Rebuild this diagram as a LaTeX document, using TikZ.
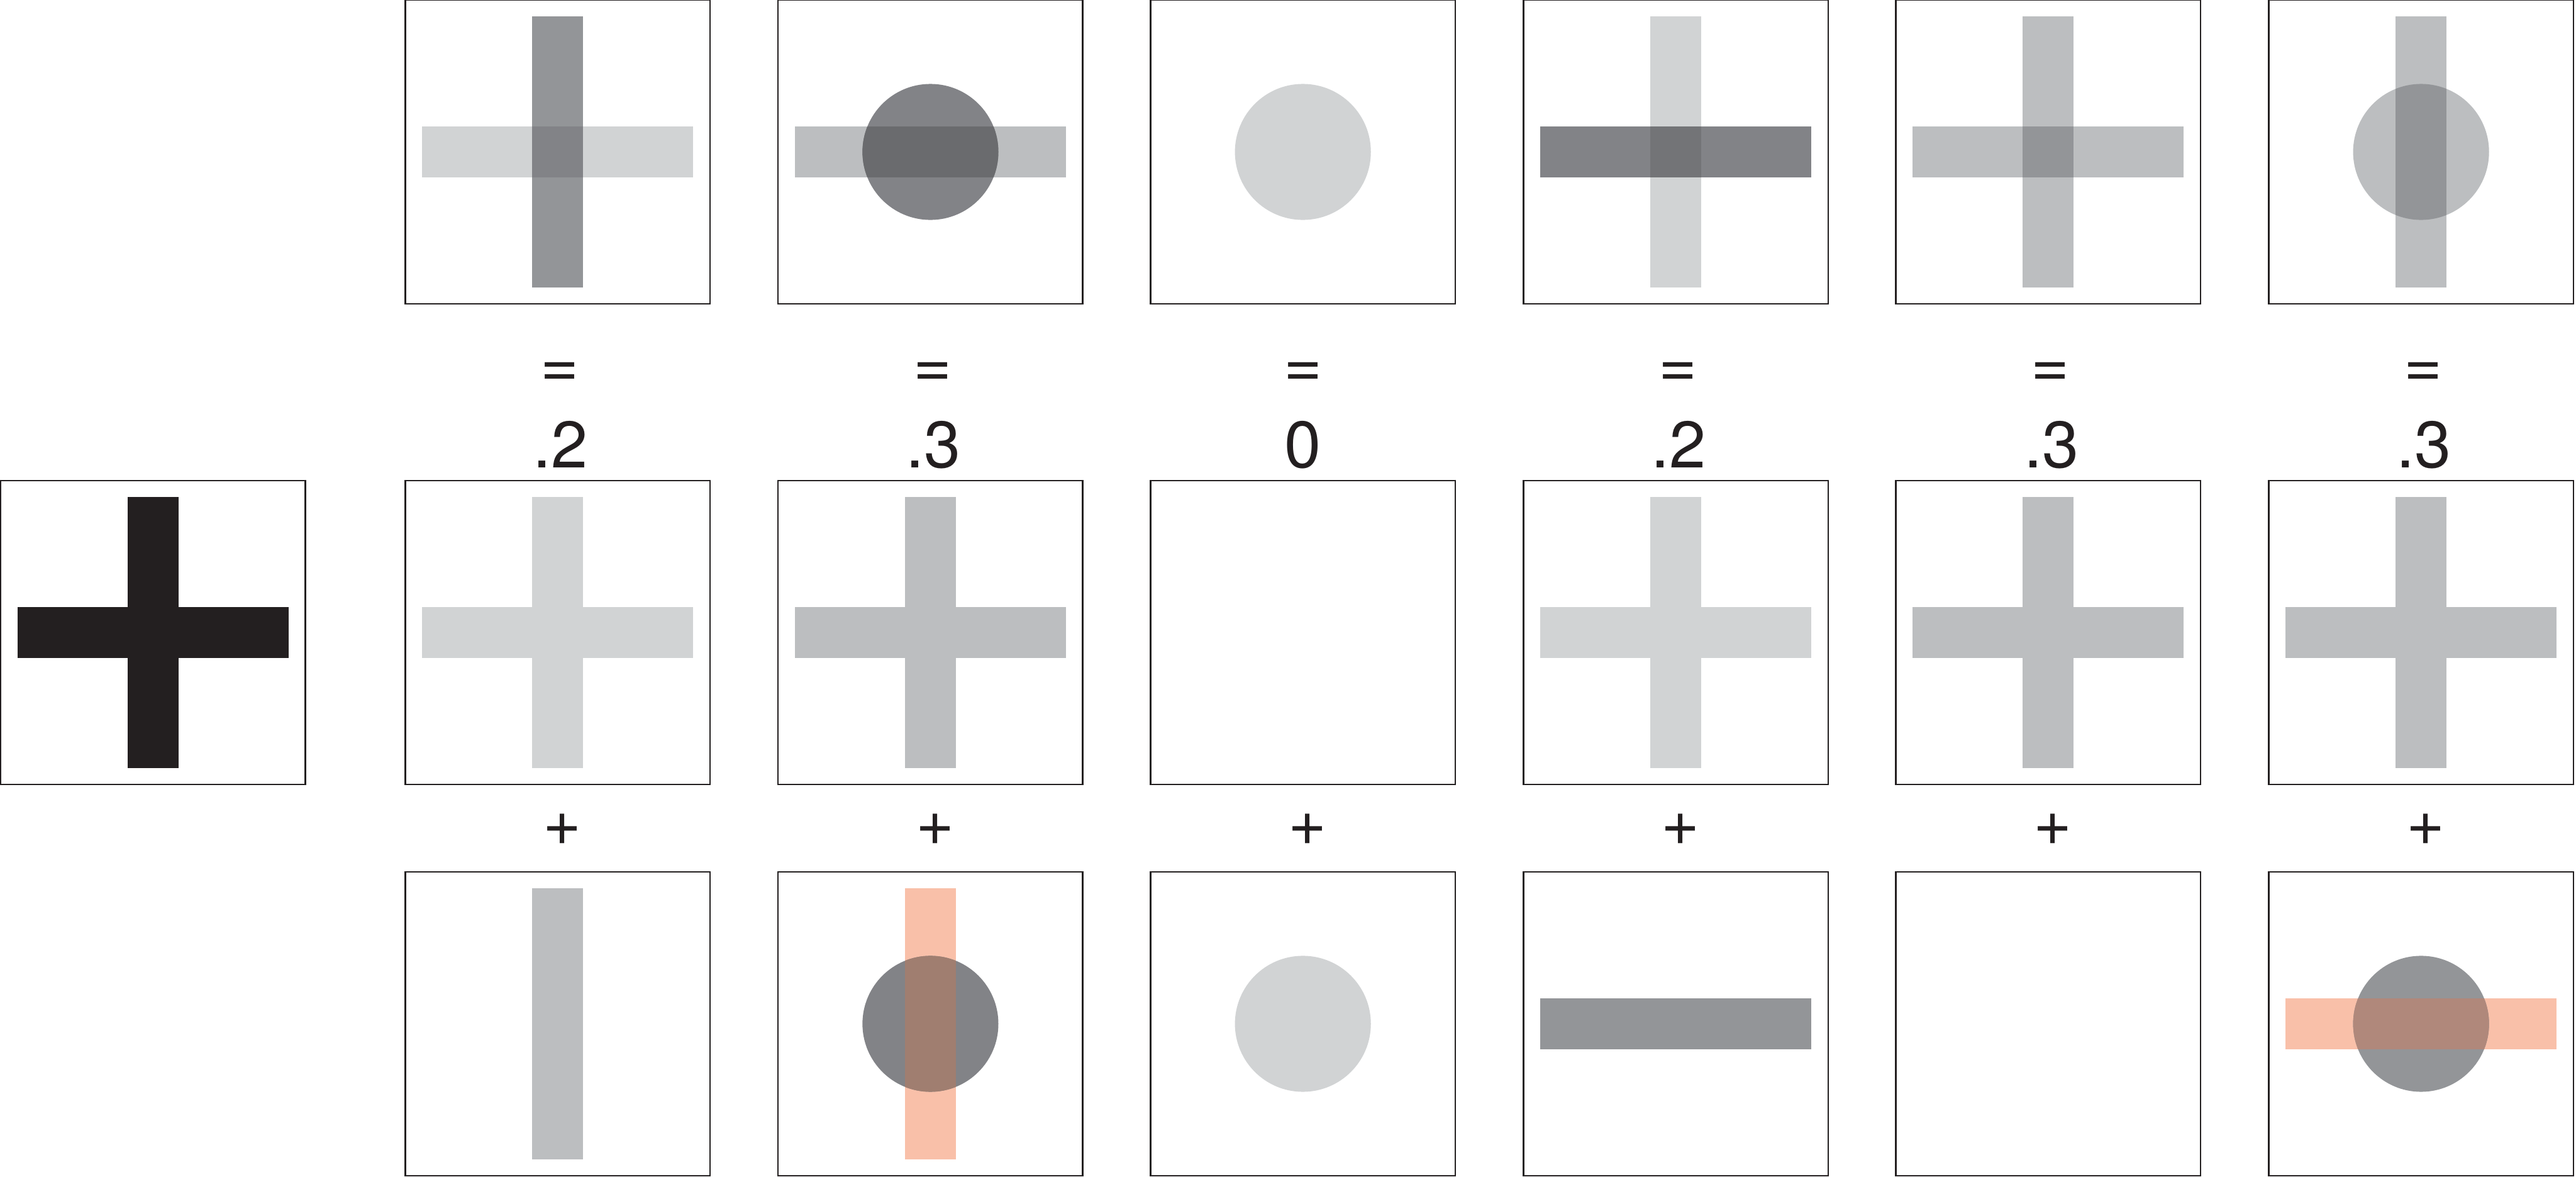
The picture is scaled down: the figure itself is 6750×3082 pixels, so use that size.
\documentclass[tikz,border=0pt]{standalone}
\usepackage{fontspec}
\setmainfont{TeX Gyre Heros}
\definecolor{ink}{HTML}{231F20}
\definecolor{gA}{HTML}{D1D3D4}
\definecolor{gB}{HTML}{BCBEC0}
\definecolor{gC}{HTML}{939598}
\definecolor{gD}{HTML}{828387}
\definecolor{gE}{HTML}{6A6B6E}
\definecolor{gF}{HTML}{737477}
\definecolor{salmon}{HTML}{F9C0A9}
\definecolor{ovA}{HTML}{A07E70}
\definecolor{ovB}{HTML}{B0887B}
\newcommand\HB[2]{\fill[#2] ([shift={(-3.55cm,-0.67cm)}]#1) rectangle ([shift={(3.55cm,0.67cm)}]#1);}
\newcommand\VB[2]{\fill[#2] ([shift={(-0.67cm,-3.55cm)}]#1) rectangle ([shift={(0.67cm,3.55cm)}]#1);}
\newcommand\CI[2]{\fill[#2] (#1) circle[radius=1.78cm];}
\newcommand\XO[2]{\fill[#2] ([shift={(-0.67cm,-0.67cm)}]#1) rectangle ([shift={(0.67cm,0.67cm)}]#1);}
\newcommand\HCO[2]{\begin{scope}\clip (#1) circle[radius=1.78cm];\HB{#1}{#2}\end{scope}}
\newcommand\VCO[2]{\begin{scope}\clip (#1) circle[radius=1.78cm];\VB{#1}{#2}\end{scope}}
\begin{document}
\begin{tikzpicture}[x=0.01cm,y=-0.01cm,
  panel/.style={draw=ink,line width=0.04cm,minimum width=7.98cm,minimum height=7.95cm,inner sep=0pt,outer sep=0pt},
  lbl/.style={font=\fontsize{49}{58}\selectfont,text=ink,inner sep=0pt,anchor=base}]
\useasboundingbox (0,0) rectangle (6750,3082);
% left box
\node[panel] (L) at (401,1657) {};
\HB{L}{ink}\VB{L}{ink}
% panels
\foreach \n/\x in {1/1461,2/2438,3/3414,4/4391,5/5367,6/6344}{
  \node[panel] (t\n) at (\x,398) {};
  \node[panel] (m\n) at (\x,1657) {};
  \node[panel] (b\n) at (\x,2682) {};
}
% top row
\HB{t1}{gA}\VB{t1}{gC}\XO{t1}{gD}
\HB{t2}{gB}\CI{t2}{gD}\HCO{t2}{gE}
\CI{t3}{gA}
\VB{t4}{gA}\HB{t4}{gD}\XO{t4}{gF}
\HB{t5}{gB}\VB{t5}{gB}\XO{t5}{gC}
\VB{t6}{gB}\CI{t6}{gB}\VCO{t6}{gC}
% middle row
\HB{m1}{gA}\VB{m1}{gA}
\HB{m2}{gB}\VB{m2}{gB}
\HB{m4}{gA}\VB{m4}{gA}
\HB{m5}{gB}\VB{m5}{gB}
\HB{m6}{gB}\VB{m6}{gB}
% bottom row
\VB{b1}{gB}
\VB{b2}{salmon}\CI{b2}{gD}\VCO{b2}{ovA}
\CI{b3}{gA}
\HB{b4}{gC}
\HB{b6}{salmon}\CI{b6}{gC}\HCO{b6}{ovB}
% labels
\node[lbl] (e1) at (1467,1015) {=};
\node[lbl] (e2) at (2444,1015) {=};
\node[lbl] (e3) at (3414,1015) {=};
\node[lbl] (e4) at (4397,1015) {=};
\node[lbl] (e5) at (5373,1015) {=};
\node[lbl] (e6) at (6350,1015) {=};
\node[lbl] (v1) at (1469,1225) {.2};
\node[lbl] (v2) at (2446,1225) {.3};
\node[lbl] (v3) at (3414,1225) {0};
\node[lbl] (v4) at (4399,1225) {.2};
\node[lbl] (v5) at (5375,1225) {.3};
\node[lbl] (v6) at (6352,1225) {.3};
\node[lbl] (p1) at (1473,2214) {+};
\node[lbl] (p2) at (2450,2214) {+};
\node[lbl] (p3) at (3426,2214) {+};
\node[lbl] (p4) at (4403,2214) {+};
\node[lbl] (p5) at (5379,2214) {+};
\node[lbl] (p6) at (6356,2214) {+};
\end{tikzpicture}
\end{document}
